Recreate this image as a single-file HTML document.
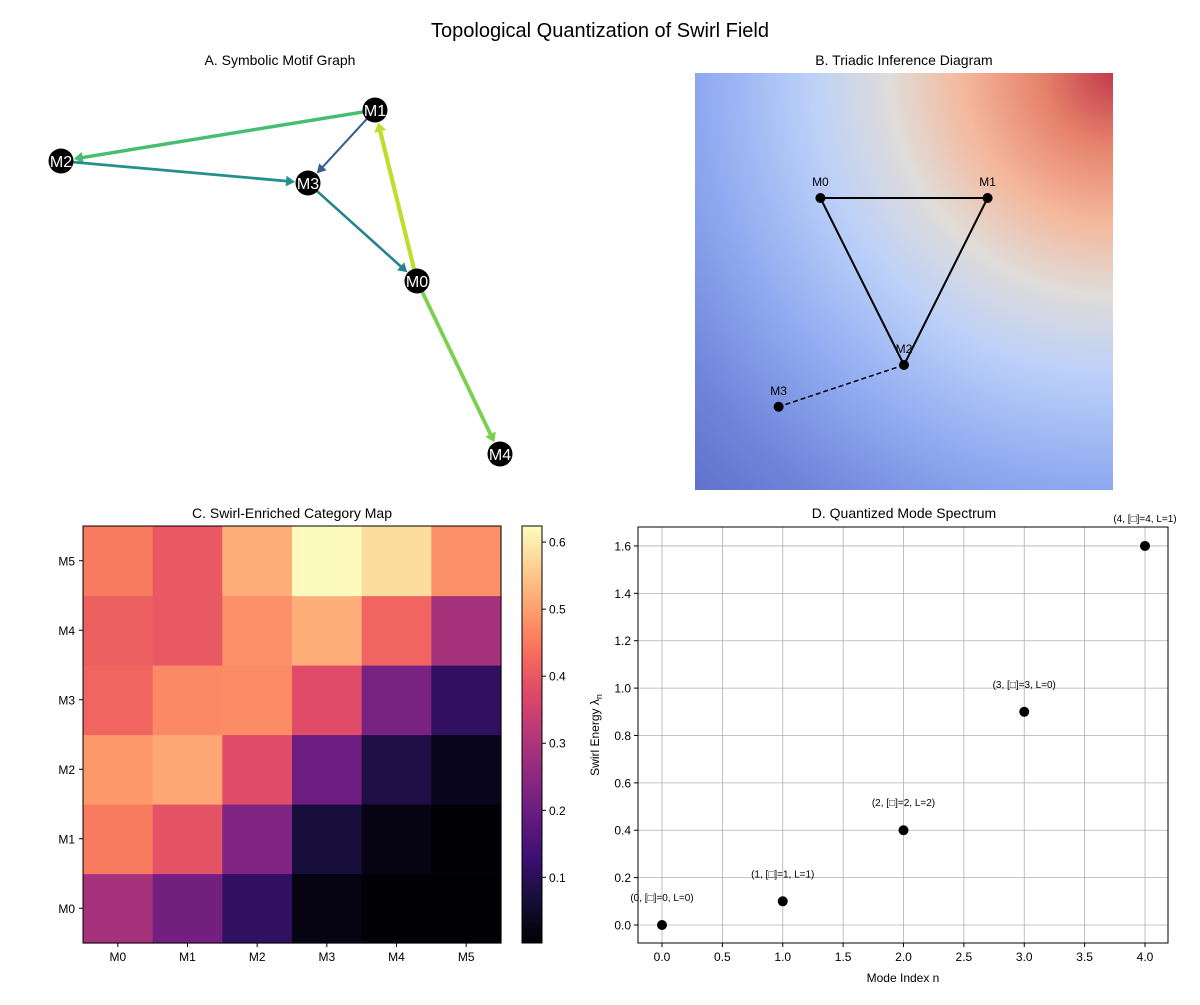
<!DOCTYPE html>
<html><head><meta charset="utf-8"><style>
html,body{margin:0;padding:0;background:#fff;}
svg text{font-family:"Liberation Sans","DejaVu Sans",sans-serif;fill:#000;}
</style></head><body>
<svg id="fig" width="1200" height="1000" viewBox="0 0 1200 1000" xmlns="http://www.w3.org/2000/svg">
<defs>
<radialGradient id="field" gradientUnits="userSpaceOnUse" cx="1113" cy="73" r="600">
<stop offset="0" stop-color="#c23b4d"/><stop offset="0.12" stop-color="#e6826b"/><stop offset="0.25" stop-color="#f4b89c"/><stop offset="0.37" stop-color="#e0dcd9"/><stop offset="0.5" stop-color="#bdd1f8"/><stop offset="0.68" stop-color="#90abf1"/><stop offset="0.86" stop-color="#6e84d9"/><stop offset="1" stop-color="#5f6fcb"/>
</radialGradient>
<linearGradient id="cbar" x1="0" y1="1" x2="0" y2="0">
<stop offset="0" stop-color="#000004"/><stop offset="0.1" stop-color="#140e36"/><stop offset="0.2" stop-color="#3b0f70"/><stop offset="0.3" stop-color="#641a80"/><stop offset="0.4" stop-color="#8c2981"/><stop offset="0.5" stop-color="#b73779"/><stop offset="0.6" stop-color="#de4968"/><stop offset="0.7" stop-color="#f7705c"/><stop offset="0.8" stop-color="#fe9f6d"/><stop offset="0.9" stop-color="#fecf92"/><stop offset="1" stop-color="#fcfdbf"/>
</linearGradient>
</defs>
<text x="600" y="37" font-size="20" text-anchor="middle">Topological Quantization of Swirl Field</text>
<text x="280" y="65" font-size="14" text-anchor="middle">A. Symbolic Motif Graph</text>
<text x="904" y="65" font-size="14" text-anchor="middle">B. Triadic Inference Diagram</text>
<text x="292" y="518" font-size="14" text-anchor="middle">C. Swirl-Enriched Category Map</text>
<text x="904" y="518" font-size="14" text-anchor="middle">D. Quantized Mode Spectrum</text>
<g id="pa"></g>
<g id="pb"></g>
<g id="pc"></g>
<g id="pd"></g>
</svg>
<script>
// ---- Panel A data ----
const nodeNames=["M0","M1","M2","M3","M4"];
const nodeX=[417,375,61,308,500];
const nodeY=[281,110,161,183,454];
const edgeFrom=[1,1,2,3,0,0];
const edgeTo=[2,3,3,0,1,4];
const edgeWeight=[0.7,0.3,0.5,0.45,0.9,0.8];
// ---- Panel B data ----
const triNames=["M0","M1","M2","M3"];
const triX=[0,1,0.5,-0.25];
const triY=[1,1,0,-0.25];
// ---- Panel C data ----
const rowLabels=["M0","M1","M2","M3","M4","M5"];
const colLabels=["M0","M1","M2","M3","M4","M5"];
const heatRows=[
 [0.29,0.21,0.11,0.02,0.003,0.003],
 [0.45,0.39,0.23,0.07,0.02,0.005],
 [0.49,0.51,0.38,0.20,0.08,0.03],
 [0.42,0.47,0.475,0.38,0.22,0.11],
 [0.41,0.40,0.48,0.52,0.42,0.29],
 [0.45,0.40,0.52,0.62,0.58,0.48]];
const cbarTicks=[0.1,0.2,0.3,0.4,0.5,0.6];
// ---- Panel D data ----
const modeN=[0,1,2,3,4];
const modeE=[0,0.1,0.4,0.9,1.6];
const modeLabels=["(0, [\u25A1]=0, L=0)","(1, [\u25A1]=1, L=1)","(2, [\u25A1]=2, L=2)","(3, [\u25A1]=3, L=0)","(4, [\u25A1]=4, L=1)"];
const dXTicks=[0,0.5,1,1.5,2,2.5,3,3.5,4];
const dYTicks=[0,0.2,0.4,0.6,0.8,1.0,1.2,1.4,1.6];

const NS="http://www.w3.org/2000/svg";
function mk(parent,tag,attrs,text){const e=document.createElementNS(NS,tag);for(const k in attrs)e.setAttribute(k,attrs[k]);if(text!==undefined)e.textContent=text;parent.appendChild(e);return e;}

// viridis
const vir=[[68,1,84],[72,40,120],[62,74,137],[49,104,142],[38,130,142],[31,158,137],[53,183,121],[109,205,89],[180,222,44],[253,231,37]];
function cmap(stops,t){t=Math.max(0,Math.min(1,t));const s=t*(stops.length-1);const i=Math.min(Math.floor(s),stops.length-2);const f=s-i;const a=stops[i],b=stops[i+1];return "rgb("+a.map((v,k)=>Math.round(v+(b[k]-v)*f)).join(",")+")";}
const magma=[[0,0,4],[20,14,54],[59,15,112],[100,26,128],[140,41,129],[183,55,121],[222,73,104],[247,112,92],[254,159,109],[254,207,146],[252,253,191]];

// Panel A
const pa=document.getElementById('pa');
for(let i=0;i<edgeFrom.length;i++){
 const a=edgeFrom[i],b=edgeTo[i];
 const x1=nodeX[a],y1=nodeY[a],x2=nodeX[b],y2=nodeY[b];
 const dx=x2-x1,dy=y2-y1,L=Math.hypot(dx,dy),ux=dx/L,uy=dy/L;
 const ex=x2-ux*13,ey=y2-uy*13;
 const col=cmap(vir,edgeWeight[i]);const w=1+edgeWeight[i]*3.5;
 const g=mk(pa,'g',{});
 
 
 mk(g,'line',{x1:x1+ux*8,y1:y1+uy*8,x2:ex-ux*4,y2:ey-uy*4,stroke:col,'stroke-width':w});
 const hl=9,hw=4+w*0.5,px=-uy,py=ux;
 mk(g,'polygon',{points:`${ex},${ey} ${ex-ux*hl+px*hw},${ey-uy*hl+py*hw} ${ex-ux*hl-px*hw},${ey-uy*hl-py*hw}`,fill:col});
}
for(let i=0;i<nodeNames.length;i++){
 const g=mk(pa,'g',{});
 
 
 mk(g,'circle',{cx:nodeX[i],cy:nodeY[i],r:12.5,fill:'#000'});
 const t=mk(g,'text',{x:nodeX[i],y:nodeY[i]+6,'font-size':16,'text-anchor':'middle'},nodeNames[i]);t.style.fill='#fff';
}

// Panel B
const pb=document.getElementById('pb');
const bx=v=>695+(v+0.75)*167.2, by=v=>365-v*167;
const bg=mk(pb,'rect',{x:695,y:73,width:418,height:417,fill:'url(#field)'});

const tri=mk(pb,'polygon',{points:[0,1,2].map(i=>bx(triX[i])+','+by(triY[i])).join(' '),fill:'none',stroke:'#000','stroke-width':2});

const dl=mk(pb,'line',{x1:bx(triX[2]),y1:by(triY[2]),x2:bx(triX[3]),y2:by(triY[3]),stroke:'#000','stroke-width':1.5,'stroke-dasharray':'5,3'});

for(let i=0;i<triNames.length;i++){
 const c=mk(pb,'circle',{cx:bx(triX[i]),cy:by(triY[i]),r:5,fill:'#000'});
 
 const t=mk(pb,'text',{x:bx(triX[i]),y:by(triY[i])-12,'font-size':12,'text-anchor':'middle'},triNames[i]);
 
}

// Panel C
const pc=document.getElementById('pc');
const hx0=83,hy0=526,cw=418/6,ch=417/6,vmin=0.002,vmax=0.624;
for(let r=0;r<heatRows.length;r++)for(let c=0;c<heatRows[r].length;c++){
 const v=heatRows[r][c];
 const rc=mk(pc,'rect',{x:hx0+c*cw,y:hy0+(5-r)*ch,width:cw+0.6,height:ch+0.6,fill:cmap(magma,(v-vmin)/(vmax-vmin))});
 
 
}
mk(pc,'rect',{x:hx0,y:hy0,width:418,height:417,fill:'none',stroke:'#000','stroke-width':1});
for(let i=0;i<6;i++){
 const yy=hy0+(5-i+0.5)*ch;
 mk(pc,'line',{x1:hx0-4,y1:yy,x2:hx0,y2:yy,stroke:'#000'});
 const t=mk(pc,'text',{x:hx0-8,y:yy+4.5,'font-size':12,'text-anchor':'end'},rowLabels[i]);
 
 const xx=hx0+(i+0.5)*cw;
 mk(pc,'line',{x1:xx,y1:hy0+417,x2:xx,y2:hy0+421,stroke:'#000'});
 const t2=mk(pc,'text',{x:xx,y:hy0+435,'font-size':12,'text-anchor':'middle'},colLabels[i]);
 
}
const cb=mk(pc,'rect',{x:522,y:526,width:20,height:417,fill:'url(#cbar)',stroke:'#000','stroke-width':1});

for(const v of cbarTicks){
 const yy=943-(v-vmin)/(vmax-vmin)*417;
 mk(pc,'line',{x1:542,y1:yy,x2:546,y2:yy,stroke:'#000'});
 const t=mk(pc,'text',{x:549,y:yy+4.5,'font-size':12},v.toFixed(1));
 
}

// Panel D
const pd=document.getElementById('pd');
const dx=v=>662+v*120.75, dy=v=>925-v*236.9;
for(const v of dXTicks){
 mk(pd,'line',{x1:dx(v),y1:527,x2:dx(v),y2:943,stroke:'#b0b0b0','stroke-width':0.8});
 mk(pd,'line',{x1:dx(v),y1:943,x2:dx(v),y2:947,stroke:'#000'});
 const t=mk(pd,'text',{x:dx(v),y:961,'font-size':12,'text-anchor':'middle'},v.toFixed(1));
 
}
for(const v of dYTicks){
 mk(pd,'line',{x1:638,y1:dy(v),x2:1168,y2:dy(v),stroke:'#b0b0b0','stroke-width':0.8});
 mk(pd,'line',{x1:634,y1:dy(v),x2:638,y2:dy(v),stroke:'#000'});
 const t=mk(pd,'text',{x:631,y:dy(v)+4.5,'font-size':12,'text-anchor':'end'},v.toFixed(1));
 
}
mk(pd,'rect',{x:638,y:527,width:530,height:416,fill:'none',stroke:'#000','stroke-width':1});
for(let i=0;i<modeN.length;i++){
 const c=mk(pd,'circle',{cx:dx(modeN[i]),cy:dy(modeE[i]),r:5,fill:'#000'});
 
 const t=mk(pd,'text',{x:dx(modeN[i]),y:dy(modeE[i])-24,'font-size':10,'text-anchor':'middle'},modeLabels[i]);
 
}
const xl=mk(pd,'text',{x:903,y:982,'font-size':12,'text-anchor':'middle'},'Mode Index n');

const yl=mk(pd,'text',{x:0,y:0,'font-size':12,'text-anchor':'middle',transform:'translate(599,735) rotate(-90)'});

yl.appendChild(document.createTextNode('Swirl Energy λ'));
const sub=mk(yl,'tspan',{'font-size':9,dy:3},'n');
</script>
</body></html>
